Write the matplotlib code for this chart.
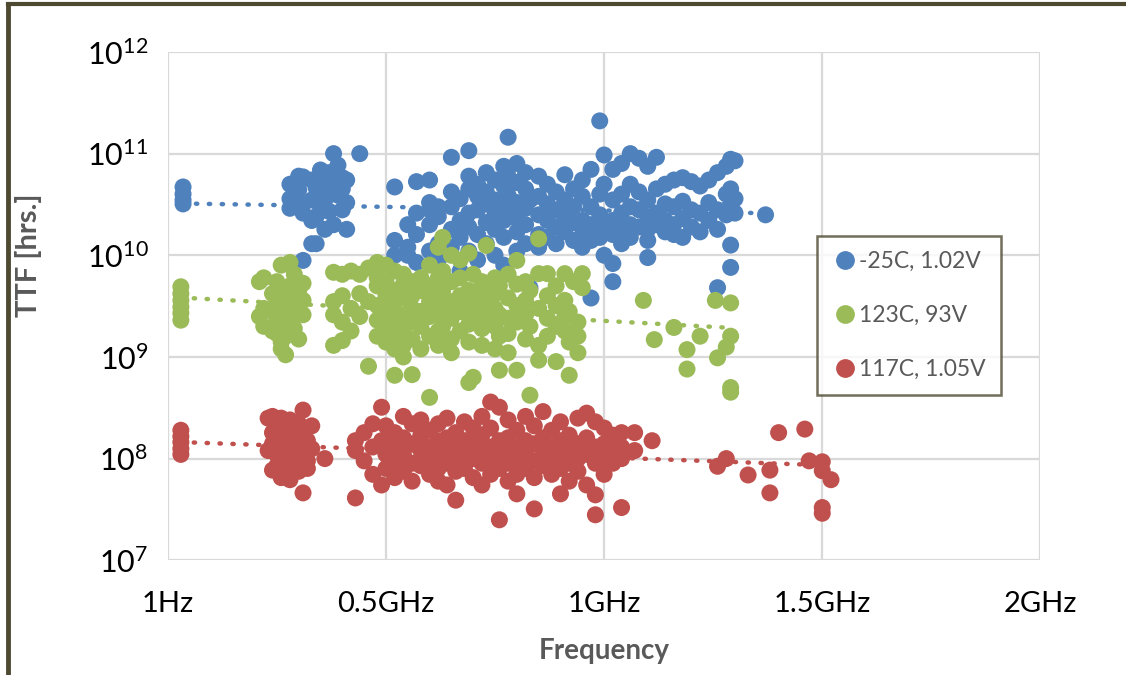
import numpy as np
import matplotlib
matplotlib.use("Agg")
import matplotlib.pyplot as plt
from matplotlib.lines import Line2D

plt.rcParams['font.family'] = ['Lato', 'DejaVu Sans']

# series: columns of (frequency GHz, [TTF hrs ...])
blue_cols = [
    (0.035, [4.7e10, 4.0e10, 3.5e10, 3.2e10]),
    (0.28, [3.6e10, 2.9e10, 5.0e10]),
    (0.30, [4.4e10, 3.3e10, 6.0e10]),
    (0.31, [5.9e10, 8.9e9, 2.6e10]),
    (0.33, [2.2e10, 3.5e10, 1.3e10, 5.5e10]),
    (0.34, [1.3e10, 4.6e10, 2.4e10]),
    (0.35, [6.9e10, 3.0e10, 4.5e10]),
    (0.36, [3.5e10, 1.8e10, 5.2e10]),
    (0.37, [4.9e10, 2.7e10, 6.5e10]),
    (0.38, [1.0e11, 2.0e10, 6.0e10]),
    (0.39, [6.2e10, 3.9e10, 7.7e10]),
    (0.40, [2.8e10, 4.5e10, 5.8e10]),
    (0.41, [5.5e10, 1.8e10, 3.3e10]),
    (0.44, [1.0e11]),
    (0.52, [4.7e10, 1.0e10, 1.4e10]),
    (0.55, [1.0e10, 1.2e10, 2.0e10]),
    (0.57, [2.6e10, 1.6e10, 8.5e9, 5.3e10]),
    (0.60, [5.5e10, 2.8e10, 3.3e10, 2.0e10, 1.1e10]),
    (0.62, [3.0e10, 2.4e10, 1.3e10, 9.0e9]),
    (0.65, [9.2e10, 4.2e10, 3.0e10, 1.8e10, 1.2e10]),
    (0.67, [3.6e10, 2.2e10, 1.5e10, 7.0e9]),
    (0.69, [1.07e11, 6.0e10, 4.5e10, 2.6e10, 1.9e10, 1.1e10]),
    (0.71, [5.0e10, 3.8e10, 2.8e10, 1.6e10, 9.0e9]),
    (0.73, [6.5e10, 4.2e10, 3.2e10, 2.1e10, 1.3e10]),
    (0.75, [5.5e10, 3.5e10, 2.6e10, 1.8e10, 1.0e10]),
    (0.77, [7.5e10, 4.8e10, 3.0e10, 2.2e10, 1.5e10, 8.0e9]),
    (0.78, [1.45e11, 6.0e10, 3.9e10, 2.6e10]),
    (0.80, [8.0e10, 5.2e10, 3.3e10, 2.3e10, 1.7e10, 1.1e10]),
    (0.82, [6.5e10, 4.5e10, 2.9e10, 2.0e10, 1.3e10]),
    (0.83, [4.8e9, 3.5e10]),
    (0.85, [6.0e10, 3.8e10, 2.5e10, 1.6e10, 1.2e10]),
    (0.87, [5.0e10, 3.2e10, 2.2e10, 1.5e10]),
    (0.89, [4.2e10, 2.8e10, 1.9e10, 1.3e10]),
    (0.91, [6.2e10, 3.5e10, 2.4e10, 1.7e10]),
    (0.93, [4.5e10, 3.0e10, 2.1e10, 1.4e10]),
    (0.95, [5.5e10, 3.8e10, 2.2e10, 1.6e10, 1.2e10]),
    (0.97, [7.0e10, 3.0e10, 2.0e10, 1.4e10, 3.8e9]),
    (0.99, [2.1e11, 4.0e10, 2.5e10, 1.8e10, 1.5e10]),
    (1.00, [9.7e10, 5.0e10, 2.0e10, 1.0e10]),
    (1.02, [7.0e10, 3.5e10, 2.2e10, 1.6e10, 8.3e9, 5.5e9]),
    (1.04, [8.0e10, 4.0e10, 2.6e10, 1.8e10, 1.3e10]),
    (1.06, [1.0e11, 5.0e10, 3.0e10, 2.0e10, 1.5e10]),
    (1.08, [9.0e10, 4.2e10, 2.8e10, 1.9e10]),
    (1.10, [7.5e10, 3.5e10, 2.4e10, 1.8e10, 1.4e10, 9.5e9]),
    (1.12, [9.2e10, 4.5e10, 2.6e10, 2.0e10]),
    (1.14, [5.0e10, 3.2e10, 2.2e10, 1.7e10]),
    (1.16, [5.5e10, 3.0e10, 2.0e10, 1.6e10]),
    (1.18, [5.8e10, 3.4e10, 2.3e10, 1.5e10]),
    (1.20, [5.3e10, 2.8e10, 1.9e10]),
    (1.22, [4.8e10, 2.6e10, 1.7e10]),
    (1.24, [5.5e10, 3.3e10, 2.2e10]),
    (1.26, [6.5e10, 2.8e10, 4.8e9, 1.8e10]),
    (1.28, [7.5e10, 4.0e10, 2.5e10]),
    (1.29, [8.8e10, 4.5e10, 3.2e10, 1.26e10, 7.6e9]),
    (1.30, [8.5e10, 3.6e10, 2.6e10]),
    (1.37, [2.5e10]),
]

green_cols = [
    (0.03, [4.9e9, 4.2e9, 3.6e9, 3.1e9, 2.7e9, 2.3e9]),
    (0.21, [5.5e9, 2.5e9]),
    (0.22, [6.0e9, 3.0e9, 2.0e9]),
    (0.24, [4.2e9, 2.8e9, 1.8e9]),
    (0.25, [5.5e9, 3.5e9, 2.2e9, 1.7e9]),
    (0.26, [8.0e9, 4.5e9, 3.0e9, 2.0e9, 1.4e9, 1.2e9]),
    (0.27, [3.8e9, 2.6e9, 1.05e9, 1.6e9]),
    (0.28, [8.5e9, 5.0e9, 3.2e9, 2.3e9]),
    (0.29, [6.5e9, 4.0e9, 1.9e9]),
    (0.30, [4.5e9, 3.0e9, 1.5e9]),
    (0.31, [5.3e9, 3.6e9, 2.6e9]),
    (0.38, [6.8e9, 3.5e9, 2.6e9, 1.3e9]),
    (0.40, [6.5e9, 4.0e9, 2.2e9, 1.45e9]),
    (0.42, [7.0e9, 3.0e9, 1.8e9]),
    (0.44, [6.5e9, 4.2e9, 2.5e9]),
    (0.46, [8.1e8, 7.5e9, 3.5e9]),
    (0.48, [8.5e9, 6.0e9, 5.0e9, 3.2e9, 2.3e9, 1.6e9]),
    (0.50, [8.0e9, 5.5e9, 4.0e9, 2.8e9, 2.0e9, 1.4e9]),
    (0.52, [7.0e9, 4.5e9, 3.5e9, 2.4e9, 1.7e9, 1.2e9, 6.6e8]),
    (0.54, [6.5e9, 5.2e9, 3.8e9, 2.6e9, 1.9e9, 1.3e9, 1.0e9]),
    (0.56, [5.5e9, 4.0e9, 3.0e9, 2.2e9, 1.5e9, 6.7e8]),
    (0.58, [6.0e9, 4.5e9, 2.8e9, 2.0e9, 1.2e9]),
    (0.60, [8.0e9, 5.0e9, 3.5e9, 2.5e9, 1.6e9, 4.0e8]),
    (0.62, [1.2e10, 6.0e9, 3.8e9, 2.6e9, 1.8e9, 1.3e9]),
    (0.63, [1.5e10, 7.0e9, 4.5e9, 3.0e9, 2.0e9]),
    (0.65, [1.0e10, 5.5e9, 3.5e9, 2.4e9, 1.5e9, 1.1e9]),
    (0.67, [9.0e9, 6.0e9, 4.0e9, 2.8e9, 1.8e9]),
    (0.69, [1.05e10, 4.5e9, 3.2e9, 2.1e9, 1.4e9, 5.6e8]),
    (0.70, [6.5e9, 3.6e9, 2.5e9, 6.3e8]),
    (0.72, [5.5e9, 4.0e9, 2.8e9, 1.9e9, 1.3e9]),
    (0.73, [1.25e10, 4.8e9, 3.4e9, 2.2e9]),
    (0.75, [6.0e9, 4.2e9, 3.0e9, 2.0e9, 1.2e9]),
    (0.76, [7.4e8, 5.0e9, 2.6e9, 1.6e9]),
    (0.78, [6.5e9, 3.8e9, 2.4e9, 1.7e9, 1.1e9]),
    (0.80, [8.9e9, 5.2e9, 3.2e9, 2.2e9, 7.4e8]),
    (0.82, [5.5e9, 3.6e9, 2.6e9, 1.5e9]),
    (0.83, [4.2e8, 4.5e9, 2.0e9]),
    (0.85, [1.45e10, 6.6e9, 3.0e9, 9.3e8, 1.3e9]),
    (0.87, [6.6e9, 4.0e9, 2.4e9, 1.6e9]),
    (0.89, [5.0e9, 3.2e9, 2.0e9, 9.0e8]),
    (0.91, [6.6e9, 3.6e9, 2.5e9, 1.8e9]),
    (0.92, [6.6e8, 2.8e9, 1.4e9]),
    (0.93, [5.5e9]),
    (0.94, [2.2e9, 1.6e9, 1.1e9]),
    (0.95, [6.6e9, 4.8e9]),
    (1.09, [3.6e9]),
    (1.115, [1.48e9]),
    (1.16, [1.95e9]),
    (1.19, [1.18e9, 7.6e8]),
    (1.22, [1.6e9]),
    (1.255, [3.6e9]),
    (1.26, [9.8e8]),
    (1.28, [1.25e9]),
    (1.29, [3.4e9, 1.6e9, 5.0e8, 4.5e8]),
]

red_cols = [
    (0.03, [1.9e8, 1.65e8, 1.45e8, 1.25e8, 1.1e8]),
    (0.23, [2.5e8, 1.2e8]),
    (0.24, [2.6e8, 1.8e8, 1.4e8, 7.7e7]),
    (0.25, [2.2e8, 1.1e8, 8.5e7]),
    (0.26, [2.5e8, 1.6e8, 1.0e8, 6.5e7]),
    (0.27, [1.9e8, 1.3e8, 7.2e7]),
    (0.28, [2.4e8, 1.5e8, 1.1e8, 6.2e7]),
    (0.29, [1.7e8, 9.0e7, 8.0e7]),
    (0.30, [2.2e8, 1.3e8, 7.5e7]),
    (0.31, [3.0e8, 1.9e8, 1.2e8, 4.6e7]),
    (0.32, [1.5e8, 9.5e7, 8.0e7]),
    (0.33, [2.1e8, 1.25e8]),
    (0.36, [1.0e8]),
    (0.43, [1.5e8, 1.2e8, 4.1e7]),
    (0.45, [1.8e8, 9.5e7]),
    (0.47, [2.2e8, 1.3e8, 7.0e7]),
    (0.49, [3.2e8, 1.5e8, 5.5e7]),
    (0.50, [2.1e8, 1.1e8, 8.0e7]),
    (0.52, [1.8e8, 1.3e8, 9.5e7, 6.5e7]),
    (0.54, [2.6e8, 1.6e8, 1.1e8, 7.5e7]),
    (0.56, [2.2e8, 1.4e8, 9.0e7, 6.0e7]),
    (0.58, [2.4e8, 1.7e8, 1.2e8, 8.5e7]),
    (0.60, [1.9e8, 1.3e8, 9.5e7, 7.0e7]),
    (0.62, [2.2e8, 1.5e8, 1.1e8, 8.0e7, 6.0e7]),
    (0.64, [2.5e8, 1.6e8, 1.2e8, 9.0e7, 5.5e7]),
    (0.66, [3.9e7, 1.8e8, 1.3e8, 1.0e8, 7.5e7]),
    (0.68, [2.3e8, 1.5e8, 1.1e8, 8.0e7]),
    (0.70, [2.0e8, 1.4e8, 1.0e8, 6.5e7]),
    (0.72, [2.6e8, 1.7e8, 1.2e8, 9.0e7, 5.5e7]),
    (0.74, [3.6e8, 2.0e8, 1.3e8, 9.5e7, 7.0e7]),
    (0.76, [3.2e8, 1.5e8, 1.1e8, 8.0e7, 2.5e7]),
    (0.78, [2.4e8, 1.6e8, 1.2e8, 9.0e7, 6.0e7]),
    (0.80, [1.9e8, 1.3e8, 1.0e8, 7.0e7, 4.5e7]),
    (0.82, [2.6e8, 1.5e8, 1.1e8, 8.0e7]),
    (0.84, [2.1e8, 1.4e8, 9.5e7, 6.5e7, 3.2e7]),
    (0.86, [2.9e8, 1.6e8, 1.2e8, 8.5e7]),
    (0.88, [1.9e8, 1.3e8, 1.0e8, 7.0e7]),
    (0.90, [2.3e8, 1.5e8, 1.1e8, 8.0e7, 4.5e7]),
    (0.92, [1.7e8, 1.2e8, 9.0e7, 6.0e7]),
    (0.94, [2.5e8, 1.4e8, 1.0e8, 7.5e7]),
    (0.96, [2.8e8, 1.6e8, 1.1e8, 5.5e7]),
    (0.98, [2.3e8, 1.3e8, 9.0e7, 4.4e7, 2.8e7]),
    (1.00, [2.0e8, 1.4e8, 1.0e8, 7.0e7]),
    (1.02, [1.7e8, 1.2e8, 9.0e7]),
    (1.04, [3.3e7, 1.8e8, 1.3e8, 1.0e8]),
    (1.07, [1.8e8, 1.2e8]),
    (1.11, [1.5e8]),
    (1.26, [8.4e7]),
    (1.28, [1.0e8]),
    (1.33, [6.9e7]),
    (1.38, [7.7e7, 4.6e7]),
    (1.40, [1.8e8]),
    (1.46, [1.95e8]),
    (1.47, [9.5e7]),
    (1.50, [9.3e7, 7.6e7, 3.3e7, 2.9e7]),
    (1.52, [6.2e7]),
]

labels = ['-25C, 1.02V', '123C, 93V', '117C, 1.05V']
colors = ['#4f81bd', '#9bbb59', '#c0504d']
xticks = [0, 0.5, 1.0, 1.5, 2.0]
xticklabels = ['1Hz', '0.5GHz', '1GHz', '1.5GHz', '2GHz']
yticks = [1e7, 1e8, 1e9, 1e10, 1e11, 1e12]


def expand(cols):
    xs, ys = [], []
    for x, vals in cols:
        for v in vals:
            xs.append(x)
            ys.append(v)
    return np.array(xs), np.array(ys)


fig = plt.figure(figsize=(11.26, 6.75), dpi=100)
ax = fig.add_axes([0.149, 0.170, 0.775, 0.753])

series = [expand(c) for c in (blue_cols, green_cols, red_cols)]
for (xs, ys), col, lab in zip(series, colors, labels):
    ax.scatter(xs, ys, s=150, color=col, edgecolors='none', zorder=3, label=lab)

# exponential trendlines (excel style)
for (xs, ys), col in zip(series, colors):
    b, a = np.polyfit(xs, np.log10(ys), 1)
    tx = np.array([xs.min(), xs.max()])
    ax.plot(tx, 10 ** (a + b * tx), color=col, lw=3.2,
            linestyle=(0, (0.3, 2.6)), dash_capstyle='round', zorder=4)

ax.set_yscale('log')
ax.set_xlim(0, 2)
ax.set_ylim(1e7, 1e12)
ax.set_xticks(xticks)
ax.set_xticklabels(xticklabels, fontsize=21)
ax.set_yticks(yticks)
ax.set_yticklabels([r'$\mathregular{10^{%d}}$' % int(np.log10(v)) for v in yticks],
                   fontsize=22)
ax.minorticks_off()
ax.tick_params(axis='x', length=0, pad=22)
ax.tick_params(axis='y', length=0, pad=14)
ax.grid(True, color='#d9d9d9', lw=1.6)
ax.set_axisbelow(True)
for sp in ax.spines.values():
    sp.set_visible(False)

ax.set_xlabel('Frequency', fontsize=20, fontweight='bold', color='#595959')
ax.xaxis.set_label_coords(0.5, -0.152)
ax.set_ylabel('TTF [hrs.]', fontsize=21, fontweight='bold', color='#595959')
ax.yaxis.set_label_coords(-0.144, 0.6)

handles = [Line2D([], [], marker='o', ls='none', color=c, markersize=12.5) for c in colors]
leg = ax.legend(handles, labels, loc='upper left', bbox_to_anchor=(0.744, 0.638),
                fontsize=16.5, labelcolor='#595959', frameon=True, fancybox=False,
                handletextpad=0.1, handlelength=1.1, labelspacing=1.45,
                borderpad=0.65, borderaxespad=0)
leg.get_frame().set_edgecolor('#4e4a32')
leg.get_frame().set_linewidth(1.8)

# outer frame (top and left)
fig.add_artist(Line2D([0.007, 1.0], [0.9935, 0.9935], color='#4e4a32', lw=3,
                      transform=fig.transFigure))
fig.add_artist(Line2D([0.007, 0.007], [0.0, 0.9935], color='#4e4a32', lw=3.5,
                      transform=fig.transFigure))

fig.savefig('out.png', dpi=100)
